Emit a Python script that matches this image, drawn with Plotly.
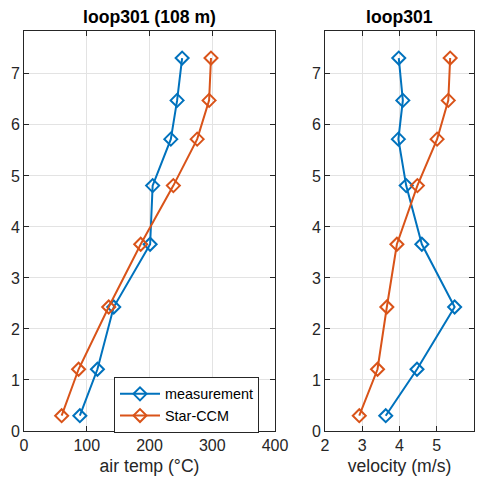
import plotly.graph_objects as go

# Sensor heights (m) along the loop301 profile
height = [0.30, 1.21, 2.43, 3.66, 4.81, 5.72, 6.48, 7.31]

# Air temperature (°C)
temp_meas = [89, 117, 143, 201, 205, 234, 244, 252]
temp_ccm = [60, 87, 135, 186, 238, 276, 295, 298]

# Air velocity (m/s)
vel_meas = [3.63, 4.47, 5.48, 4.60, 4.18, 3.97, 4.09, 3.98]
vel_ccm = [2.92, 3.41, 3.66, 3.93, 4.48, 5.01, 5.31, 5.36]

series_names = ["measurement", "Star-CCM"]
colors = ["#0072BD", "#D95319"]

W, H = 477, 480
FONT = "Liberation Sans, Arial, Helvetica, sans-serif"
AX = "#262626"
GRID = "#e3e3e3"

fig = go.Figure()

def add_series(x, y, name, color, xaxis, yaxis, show):
    fig.add_trace(go.Scatter(
        x=x, y=y, name=name, mode="lines+markers",
        line=dict(color=color, width=2),
        marker=dict(symbol="diamond-open", size=10, color=color,
                    line=dict(width=2, color=color)),
        xaxis=xaxis, yaxis=yaxis, showlegend=show,
    ))

add_series(temp_meas, height, series_names[0], colors[0], "x", "y", True)
add_series(temp_ccm, height, series_names[1], colors[1], "x", "y", True)
add_series(vel_meas, height, series_names[0], colors[0], "x2", "y2", False)
add_series(vel_ccm, height, series_names[1], colors[1], "x2", "y2", False)

def px_x(p):
    return p / W

def px_y(p):
    return 1 - p / H

common_axis = dict(
    showline=True, linecolor=AX, linewidth=1, mirror="ticks",
    ticks="inside", ticklen=5, tickcolor=AX, automargin=False,
    showgrid=True, gridcolor=GRID, gridwidth=1, zeroline=False,
    tickfont=dict(family=FONT, size=16, color=AX),
)

ydom = [px_y(431), px_y(31)]
x1dom = [px_x(24), px_x(275)]
x2dom = [px_x(325), px_x(474)]

fig.update_layout(
    width=W, height=H,
    margin=dict(l=0, r=0, t=0, b=0),
    paper_bgcolor="white", plot_bgcolor="white",
    font=dict(family=FONT, color=AX),
    xaxis=dict(domain=x1dom, range=[0, 400], dtick=100, anchor="y",
               title=dict(text="air temp (°C)", font=dict(size=17.6, color=AX), standoff=6),
               **common_axis),
    yaxis=dict(domain=ydom, range=[0, 7.84], dtick=1, anchor="x", **common_axis),
    xaxis2=dict(domain=x2dom, range=[2, 6], dtick=1, anchor="y2",
                title=dict(text="velocity (m/s)", font=dict(size=17.6, color=AX), standoff=6),
                **common_axis),
    yaxis2=dict(domain=ydom, range=[0, 7.84], dtick=1, anchor="x2", **common_axis),
    legend=dict(
        x=px_x(114), y=px_y(377), xanchor="left", yanchor="top",
        bgcolor="white", bordercolor=AX, borderwidth=1,
        font=dict(family=FONT, size=14.4, color="black"),
        tracegroupgap=0, itemwidth=40,
    ),
    annotations=[
        dict(text="<b>loop301 (108 m)</b>", x=sum(x1dom) / 2, y=px_y(17),
             xref="paper", yref="paper", xanchor="center", yanchor="middle",
             showarrow=False, font=dict(family=FONT, size=17.6, color="black")),
        dict(text="<b>loop301</b>", x=sum(x2dom) / 2, y=px_y(17),
             xref="paper", yref="paper", xanchor="center", yanchor="middle",
             showarrow=False, font=dict(family=FONT, size=17.6, color="black")),
    ],
)

fig.write_html("out.html")
